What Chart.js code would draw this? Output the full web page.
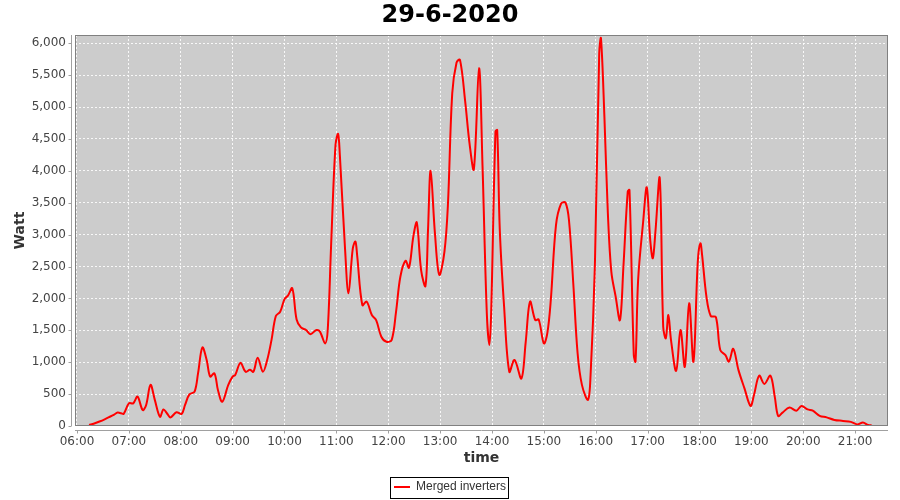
<!DOCTYPE html>
<html>
<head>
<meta charset="utf-8">
<script src="https://cdn.jsdelivr.net/npm/chart.js@4"></script>
<style>
  html, body { margin: 0; padding: 0; background: #fff; }
  #wrap { width: 900px; height: 500px; }
</style>
</head>
<body>
<div id="wrap"><canvas id="chartCanvas" width="900" height="500"></canvas></div>
<script>
// ---- data ----
const times = [
  "06:14","06:20","06:26","06:32","06:38","06:43","06:47","06:51","06:54",
  "07:00","07:05","07:10","07:16","07:20","07:25","07:30","07:36","07:40","07:44","07:48","07:55",
  "08:01","08:05","08:10","08:16","08:20","08:25","08:30","08:34","08:39","08:43","08:48","08:55",
  "09:00","09:03","09:09","09:15","09:20","09:24","09:29","09:35","09:40","09:45","09:50","09:55",
  "10:00","10:04","10:09","10:14","10:19","10:25","10:30","10:37","10:41","10:47","10:50","10:54","10:59",
  "11:02","11:04","11:10","11:14","11:19","11:22","11:24","11:30","11:35","11:41","11:46","11:52","11:58",
  "12:04","12:09","12:14","12:20","12:24","12:29","12:33","12:38","12:43","12:46","12:49","12:54","12:59",
  "13:05","13:09","13:14","13:19","13:23","13:29","13:34","13:39","13:45","13:49","13:54","13:57","13:59",
  "14:04","14:06","14:09","14:14","14:20","14:26","14:34","14:39","14:44","14:50","14:54",
  "15:00","15:04","15:08","15:14","15:20","15:25","15:29","15:34","15:39","15:44","15:51","15:54","15:59",
  "16:04","16:06","16:10","16:14","16:18","16:23","16:28","16:32","16:37","16:39","16:44","16:46","16:49","16:55","16:59",
  "17:03","17:06","17:09","17:14","17:18","17:21","17:24","17:27","17:33","17:38","17:43","17:48","17:53","17:58",
  "18:01","18:03","18:08","18:13","18:19","18:24","18:30","18:34","18:39","18:45","18:52","18:59",
  "19:03","19:09","19:15","19:22","19:27","19:31","19:36","19:44","19:52","19:58",
  "20:05","20:11","20:19","20:27","20:36","20:46","20:55",
  "21:03","21:09","21:15","21:19"
];
const watts = [
  15, 40, 70, 105, 145, 180, 210, 200, 190,
  355, 355, 460, 250, 330, 645, 410, 145, 260, 200, 135, 215,
  190, 330, 495, 540, 825, 1230, 1035, 775, 825, 565, 380, 645,
  775, 800, 990, 850, 880, 850, 1070, 850, 1035, 1350, 1725, 1790,
  1990, 2045, 2160, 1670, 1545, 1505, 1440, 1505, 1480, 1295, 1505, 2865, 4405,
  4580, 4250, 2785, 2080, 2785, 2890, 2680, 1895, 1950, 1740, 1660, 1400, 1320,
  1350, 1790, 2340, 2590, 2480, 2970, 3190, 2445, 2195, 3075, 4000, 3020, 2370,
  2735, 3465, 5215, 5700, 5740, 5085, 4430, 4025, 5610, 4090, 1765, 1270, 1765,
  4615, 4640, 3075, 1870, 850, 1035, 745, 1320, 1950, 1660, 1670,
  1295, 1455, 1975, 3150, 3490, 3500, 3230, 2235, 1140, 645, 410, 800, 2525,
  5845, 6080, 4850, 3335, 2420, 2030, 1660, 2500, 3675, 3700, 1110, 1010, 2290, 3230, 3740,
  2915, 2630, 3045, 3885, 1555, 1375, 1740, 1350, 865, 1505, 930, 1925, 1010, 2575,
  2865, 2680, 2030, 1725, 1705, 1190, 1110, 1010, 1210, 880, 590, 315,
  485, 790, 660, 790, 460, 155, 210, 290, 240, 315,
  260, 240, 160, 135, 95, 80, 65,
  25, 55, 15, 10
];
const xTickLabels = ["06:00","07:00","08:00","09:00","10:00","11:00","12:00","13:00",
  "14:00","15:00","16:00","17:00","18:00","19:00","20:00","21:00"];
const yTickValues = [0, 500, 1000, 1500, 2000, 2500, 3000, 3500, 4000, 4500, 5000, 5500, 6000];
const seriesName = "Merged inverters";
const chartTitle = "29-6-2020";

// "HH:MM" -> minutes since midnight
function toMin(s) {
  const [h, m] = s.split(":").map(Number);
  return h * 60 + m;
}
function fmtMin(v) {
  const h = Math.floor(v / 60), m = Math.round(v % 60);
  return String(h).padStart(2, "0") + ":" + String(m).padStart(2, "0");
}

const points = times.map((t, i) => ({ x: toMin(t), y: watts[i] }));

// grey plot background, outline, offset axis lines and legend box
const plotDeco = {
  id: "plotDeco",
  beforeDraw(chart) {
    const { ctx, chartArea: a } = chart;
    ctx.save();
    ctx.fillStyle = "#cccccc";
    ctx.fillRect(a.left, a.top, a.right - a.left, a.bottom - a.top);
    ctx.restore();
  },
  afterDatasetsDraw(chart) {
    const { ctx, chartArea: a, scales } = chart;
    ctx.save();
    ctx.strokeStyle = "#808080";
    ctx.lineWidth = 1;
    ctx.strokeRect(a.left + 0.5, a.top + 0.5, a.right - a.left - 1, a.bottom - a.top - 1);

    // y axis line + ticks
    ctx.strokeStyle = "#a0a0a0";
    const ax = Math.round(a.left - 4) + 0.5;
    ctx.beginPath();
    ctx.moveTo(ax, a.top);
    ctx.lineTo(ax, a.bottom);
    scales.y.ticks.forEach(t => {
      const py = Math.round(scales.y.getPixelForValue(t.value)) + 0.5;
      ctx.moveTo(ax - 3, py);
      ctx.lineTo(ax, py);
    });
    // x axis line + ticks
    const ay = Math.round(a.bottom + 4) + 0.5;
    ctx.moveTo(a.left, ay);
    ctx.lineTo(a.right, ay);
    scales.x.ticks.forEach(t => {
      const px = Math.round(scales.x.getPixelForValue(t.value)) + 0.5;
      ctx.moveTo(px, ay);
      ctx.lineTo(px, ay + 3);
    });
    ctx.stroke();
    ctx.restore();
  },
  afterDraw(chart) {
    const lg = chart.legend;
    if (!lg || !lg.legendHitBoxes || !lg.legendHitBoxes.length) return;
    const hb = lg.legendHitBoxes[0];
    const ctx = chart.ctx;
    ctx.save();
    ctx.strokeStyle = "#000";
    ctx.lineWidth = 1;
    ctx.strokeRect(Math.round(hb.left - 4) + 0.5, Math.round(hb.top - 4) + 0.5,
      Math.round(hb.width + 6), Math.round(hb.height + 9));
    ctx.restore();
  }
};

const ctx = document.getElementById("chartCanvas").getContext("2d");
new Chart(ctx, {
  type: "line",
  data: {
    datasets: [{
      label: seriesName,
      data: points,
      borderColor: "#ff0000",
      backgroundColor: "#ff0000",
      borderWidth: 2,
      pointRadius: 0,
      tension: 0.35,
      fill: false
    }]
  },
  options: {
    responsive: false,
    animation: false,
    layout: { padding: { left: 0, right: 0, top: 0, bottom: -3 } },
    plugins: {
      title: {
        display: true,
        text: chartTitle,
        color: "#000",
        font: { family: "DejaVu Sans", size: 24, weight: "bold" },
        padding: { top: 1.8, bottom: 4.4 }
      },
      legend: {
        position: "bottom",
        labels: {
          usePointStyle: true,
          pointStyle: "line",
          pointStyleWidth: 16,
          boxHeight: 12,
          color: "#333",
          padding: 11,
          font: { family: "Liberation Sans", size: 12 }
        }
      },
      tooltip: { enabled: false }
    },
    scales: {
      x: {
        type: "linear",
        min: 357.7,
        max: 1298,
        afterBuildTicks: s => { s.ticks = xTickLabels.map(l => ({ value: toMin(l) })); },
        afterFit: s => { s.height = 44; },
        ticks: {
          callback: v => fmtMin(v),
          color: "#444",
          padding: 9,
          maxRotation: 0,
          autoSkip: false,
          font: { family: "DejaVu Sans", size: 12 }
        },
        grid: { color: "rgba(255,255,255,0.85)", drawTicks: false },
        border: { display: false, dash: [2, 2] },
        title: {
          display: true,
          text: "time",
          color: "#333",
          font: { family: "DejaVu Sans", size: 14, weight: "bold" },
          padding: { top: 0, bottom: 3 }
        }
      },
      y: {
        min: 0,
        max: 6130,
        afterBuildTicks: s => { s.ticks = yTickValues.map(v => ({ value: v })); },
        afterFit: s => { s.width = 75; },
        ticks: {
          callback: v => v.toLocaleString("en-US"),
          color: "#444",
          padding: 9,
          font: { family: "DejaVu Sans", size: 12 }
        },
        grid: { color: "rgba(255,255,255,0.85)", drawTicks: false },
        border: { display: false, dash: [2, 2] },
        title: {
          display: true,
          text: "Watt",
          color: "#333",
          font: { family: "DejaVu Sans", size: 14, weight: "bold" },
          padding: { top: 12, bottom: 0 }
        }
      },
      // empty right-hand strip so the plot ends where the original does
      yRight: {
        type: "linear",
        position: "right",
        afterFit: s => { s.width = 12; },
        ticks: { display: false },
        grid: { display: false, drawOnChartArea: false },
        border: { display: false }
      }
    }
  },
  plugins: [plotDeco]
});
</script>
</body>
</html>
